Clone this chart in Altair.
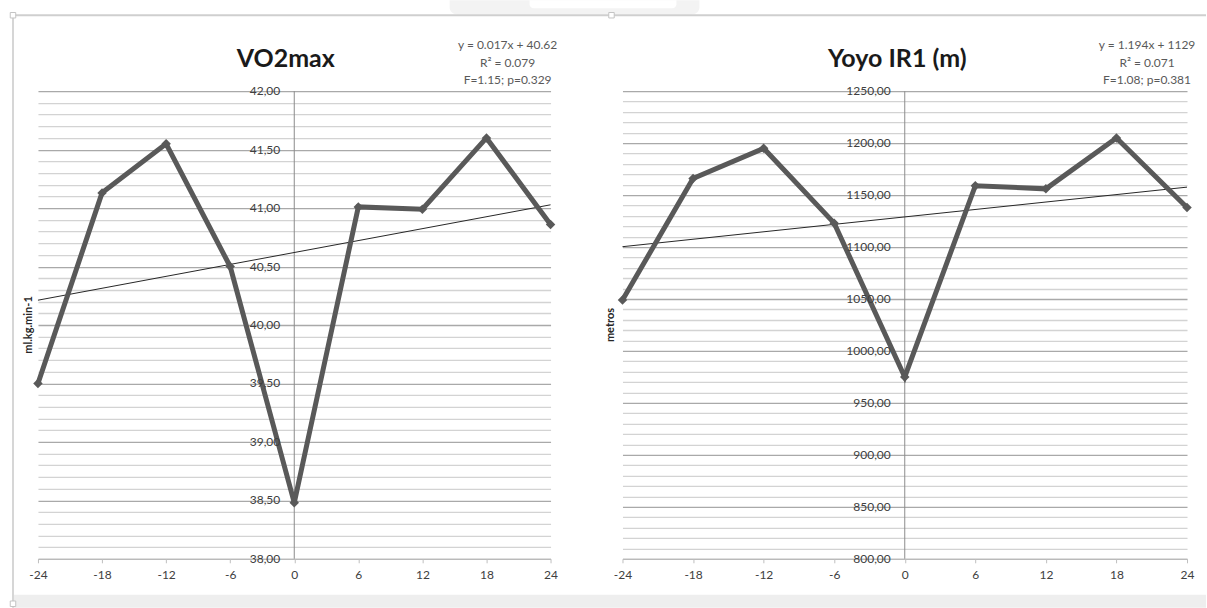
import altair as alt
import numpy as np
import pandas as pd

FONT = "Lato"

# Months relative to the intervention
months = [-24, -18, -12, -6, 0, 6, 12, 18, 24]

# VO2max (ml.kg.min-1)
vo2 = [39.50, 41.13, 41.55, 40.50, 38.48, 41.01, 40.99, 41.60, 40.86]
vo2_slope, vo2_intercept = 0.017, 40.62
vo2_ticks = [38.0, 38.5, 39.0, 39.5, 40.0, 40.5, 41.0, 41.5, 42.0]
vo2_tick_labels = ["38,00", "38,50", "39,00", "39,50", "40,00", "40,50", "41,00", "41,50", "42,00"]
vo2_stats = ["y = 0.017x + 40.62", "R² = 0.079", "F=1.15; p=0.329"]

# Yo-Yo IR1 distance (m)
yoyo = [1049, 1166, 1195, 1123, 975, 1159, 1156, 1205, 1138]
yoyo_slope, yoyo_intercept = 1.194, 1129
yoyo_ticks = [800, 850, 900, 950, 1000, 1050, 1100, 1150, 1200, 1250]
yoyo_tick_labels = ["800,00", "850,00", "900,00", "950,00", "1000,00", "1050,00",
                    "1100,00", "1150,00", "1200,00", "1250,00"]
yoyo_stats = ["y = 1.194x + 1129", "R² = 0.071", "F=1.08; p=0.381"]

H = 468
LINE = "#595959"


def one_row():
    return alt.Chart(alt.Data(values=[{}]))


def panel(values, slope, intercept, ticks, tick_labels, minor_step, y_title,
          title, stats, width, title_x, stats_x, ytitle_x, frame=False):
    lo, hi = ticks[0], ticks[-1]
    major_step = ticks[1] - ticks[0]
    n_minor = int(round((hi - lo) / minor_step))
    minor = [round(lo + i * minor_step, 4) for i in range(n_minor + 1)]
    is_major = f"abs(datum.value / {major_step} - round(datum.value / {major_step})) < 0.001"

    x_enc = alt.X(
        "x:Q",
        scale=alt.Scale(domain=[-24, 24], nice=False, zero=False),
        axis=alt.Axis(values=months, title=None, grid=False,
                      labelExpr="datum.value < 0 ? '-' + abs(datum.value) : '' + datum.value",
                      domainColor="#bfbfbf", tickColor="#bfbfbf", tickSize=4,
                      labelFont=FONT, labelFontSize=12, labelColor="#404040",
                      labelPadding=7, labelFlush=False),
    )
    y_enc = alt.Y(
        "y:Q",
        scale=alt.Scale(domain=[lo, hi], nice=False, zero=False),
        axis=alt.Axis(values=minor, grid=True, labels=False, ticks=False,
                      domain=False, title=None,
                      gridColor={"condition": {"test": is_major, "value": "#a9a9a9"},
                                 "value": "#d3d3d3"},
                      gridWidth=1.3),
    )

    data = pd.DataFrame({"x": months, "y": values})

    series = alt.Chart(data).mark_line(color=LINE, strokeWidth=5).encode(x=x_enc, y=y_enc)
    markers = alt.Chart(data).mark_point(shape="diamond", filled=True, color=LINE,
                                         size=90, opacity=1).encode(x=x_enc, y=y_enc)

    trend = (
        alt.Chart(pd.DataFrame({"x": [-24, 24]}))
        .transform_calculate(y=f"{slope} * datum.x + {intercept}")
        .mark_line(color="#262626", strokeWidth=1)
        .encode(x=x_enc, y=y_enc)
    )

    zero_axis = alt.Chart(pd.DataFrame({"x": [0]})).mark_rule(
        color="#8c8c8c", strokeWidth=1).encode(x=x_enc)

    tick_df = pd.DataFrame({"x": [0] * len(ticks), "y": ticks, "label": tick_labels})
    tick_text = alt.Chart(tick_df).mark_text(
        align="right", baseline="middle", dx=-14, font=FONT, fontSize=12, color="#404040"
    ).encode(x=x_enc, y=y_enc, text="label:N")

    title_mark = one_row().mark_text(
        text=title, font=FONT, fontSize=25, fontWeight="bold", color="#1a1a1a",
        align="center", baseline="middle",
    ).encode(x=alt.value(title_x), y=alt.value(-32))

    stats_mark = one_row().mark_text(
        text=stats, font=FONT, fontSize=12, color="#595959", align="center",
        baseline="middle", lineHeight=17.5,
    ).encode(x=alt.value(stats_x), y=alt.value(-46))

    ytitle_mark = one_row().mark_text(
        text=y_title, font=FONT, fontSize=11, fontWeight="bold", color="#262626",
        align="center", baseline="middle", angle=270,
    ).encode(x=alt.value(ytitle_x), y=alt.value(H / 2))

    layers = []
    if frame:
        # whole-page extent, Excel-style chart frame, bottom strip and selection handles
        page = one_row().mark_rect(opacity=0).encode(
            x=alt.value(-38), x2=alt.value(1169), y=alt.value(-91), y2=alt.value(517))
        strip = one_row().mark_rect(color="#eeeeee").encode(
            x=alt.value(-25), x2=alt.value(1169), y=alt.value(504), y2=alt.value(517))
        halo = one_row().mark_rect(color="#f3f3f3", cornerRadiusBottomLeft=7,
                                   cornerRadiusBottomRight=7).encode(
            x=alt.value(412), x2=alt.value(662), y=alt.value(-91), y2=alt.value(-77))
        halo_in = one_row().mark_rect(color="#ffffff", cornerRadiusBottomLeft=5,
                                      cornerRadiusBottomRight=5).encode(
            x=alt.value(492), x2=alt.value(639), y=alt.value(-91), y2=alt.value(-83))
        top_line = one_row().mark_rule(color="#cfcfcf", strokeWidth=2).encode(
            x=alt.value(-25), x2=alt.value(1169), y=alt.value(-76))
        left_line = one_row().mark_rule(color="#d6d6d6", strokeWidth=2).encode(
            x=alt.value(-25), y=alt.value(-76), y2=alt.value(517))
        handles = [
            one_row().mark_square(size=30, fill="#ffffff", stroke="#c4c4c4",
                                  strokeWidth=1, opacity=1).encode(
                x=alt.value(hx), y=alt.value(hy))
            for hx, hy in [(-25, -76), (574, -76), (-25, 513)]
        ]
        layers += [page, strip, halo, halo_in, top_line, left_line] + handles

    layers += [zero_axis, trend, series, markers, tick_text, title_mark, stats_mark, ytitle_mark]
    return alt.layer(*layers).properties(width=width, height=H)


left = panel(vo2, vo2_slope, vo2_intercept, vo2_ticks, vo2_tick_labels, 0.1,
             "ml.kg.min-1", "VO2max", vo2_stats, 513,
             title_x=248, stats_x=470, ytitle_x=-9, frame=True)
right = panel(yoyo, yoyo_slope, yoyo_intercept, yoyo_ticks, yoyo_tick_labels, 10,
              "metros", "Yoyo IR1 (m)", yoyo_stats, 565,
              title_x=275, stats_x=525, ytitle_x=-11)

chart = (
    alt.hconcat(left, right, spacing=72, bounds="flush")
    .properties(padding=0, background="#ffffff")
    .configure_view(stroke=None)
)

chart.save("out.html", embed_options={"renderer": "svg", "actions": False})
